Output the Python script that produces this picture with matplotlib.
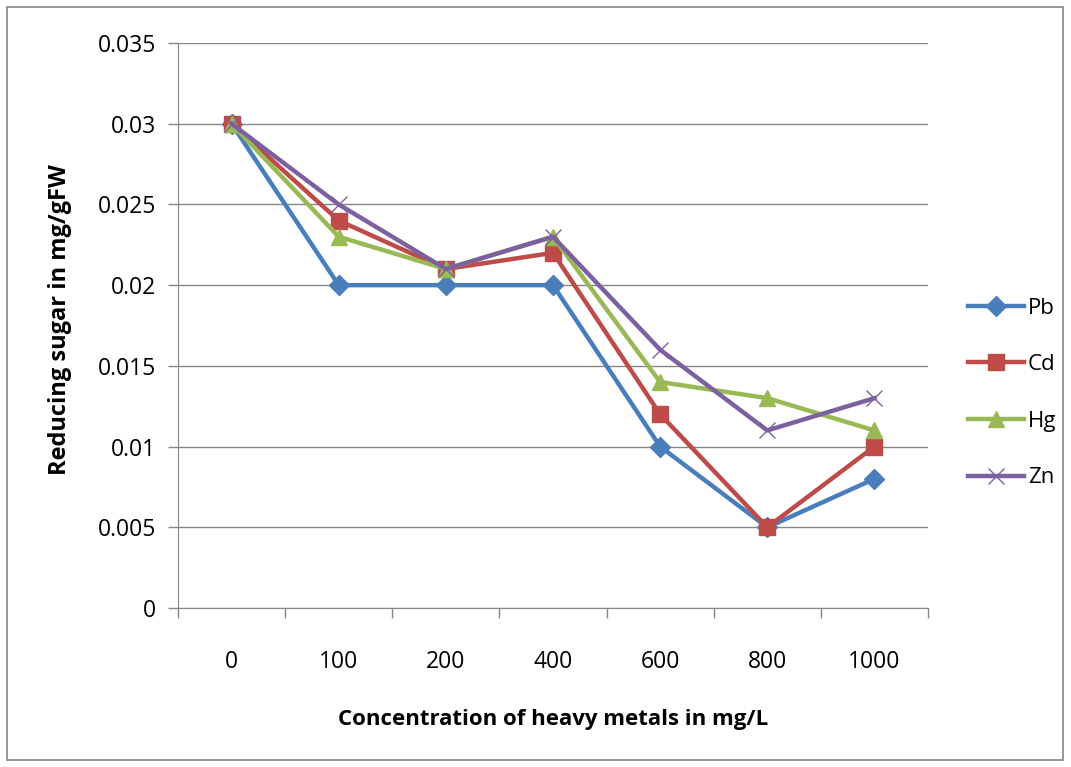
import numpy as np
import matplotlib.pyplot as plt
from matplotlib.patches import Rectangle
from matplotlib.ticker import FuncFormatter, FixedLocator

plt.rcParams['font.family'] = ['Open Sans', 'DejaVu Sans']

conc = ['0', '100', '200', '400', '600', '800', '1000']
pb = [0.03, 0.02, 0.02, 0.02, 0.01, 0.005, 0.008]
cd = [0.03, 0.024, 0.021, 0.022, 0.012, 0.005, 0.01]
hg = [0.03, 0.023, 0.021, 0.023, 0.014, 0.013, 0.011]
zn = [0.03, 0.025, 0.021, 0.023, 0.016, 0.011, 0.013]

series = [('Pb', pb, '#4A7EBB', 'D', 10),
          ('Cd', cd, '#BE4B48', 's', 11),
          ('Hg', hg, '#98B954', '^', 11),
          ('Zn', zn, '#7D60A0', 'x', 12)]

fig = plt.figure(figsize=(10.71, 7.67), dpi=100)
ax = fig.add_axes([178/1071, 1-608/767, 750/1071, 565/767])

x = np.arange(len(conc))
for name, vals, col, mk, ms in series:
    if mk == 'x':
        ax.plot(x, vals, color=col, lw=3.2, marker=mk, ms=ms, mew=1.0, label=name)
    else:
        ax.plot(x, vals, color=col, lw=3.2, marker=mk, ms=ms, mec=col, label=name)

ax.set_xlim(-0.5, len(conc) - 0.5)
ax.set_ylim(0, 0.035)
ax.set_yticks(np.arange(0, 0.0351, 0.005))
ax.yaxis.set_major_formatter(FuncFormatter(lambda v, p: '%g' % round(v, 4)))
ax.set_xticks(x)
ax.set_xticklabels(conc)
ax.xaxis.set_minor_locator(FixedLocator(np.arange(-0.5, len(conc), 1.0)))
ax.tick_params(axis='x', which='major', length=0, pad=30, labelsize=16.5)
ax.tick_params(axis='x', which='minor', length=7, color='#868686', width=1)
ax.tick_params(axis='y', length=7, color='#868686', width=1, labelsize=16.5, pad=9)
ax.grid(axis='y', color='#868686', lw=1)
ax.set_axisbelow(True)
for s in ['top', 'right']:
    ax.spines[s].set_visible(False)
for s in ['left', 'bottom']:
    ax.spines[s].set_color('#868686')

fig.text(60/1071, 1-320/767, 'Reducing sugar in mg/gFW', rotation=90,
         ha='center', va='center', fontsize=17, fontweight='bold')
fig.text(553/1071, 1-720/767, 'Concentration of heavy metals in mg/L',
         ha='center', va='center', fontsize=16, fontweight='bold')

fig.legend(loc='center left', bbox_to_anchor=(948/1071, 1-393/767),
           frameon=False, fontsize=16, labelspacing=1.6, handlelength=2.5,
           handletextpad=0.2)

fig.patches.append(Rectangle((7/1071, 1-760/767), 1056/1071, 753/767,
                             transform=fig.transFigure, fill=False,
                             edgecolor='#868686', lw=1.2))

fig.savefig('out.png', dpi=100)
